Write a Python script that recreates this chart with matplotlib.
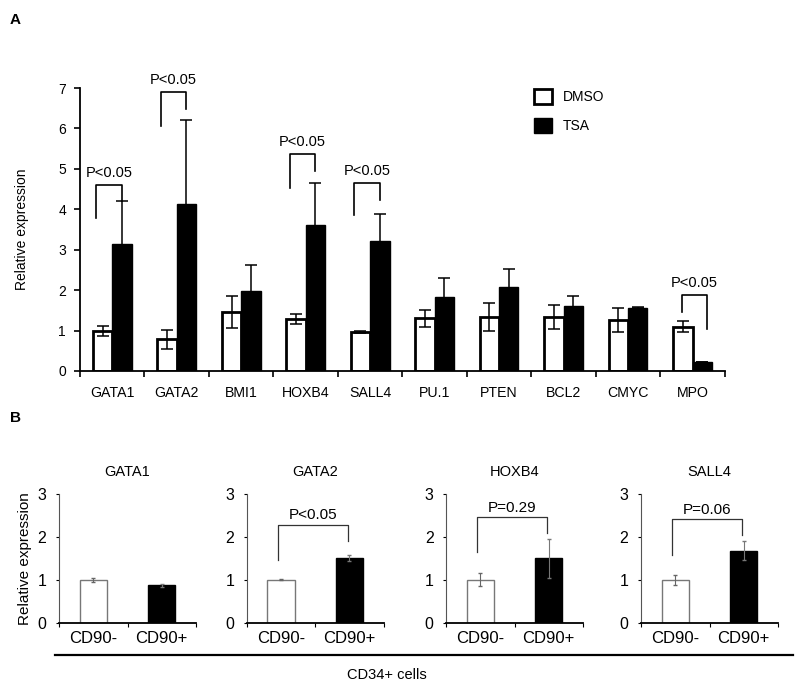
import matplotlib
matplotlib.use("Agg")
import matplotlib.pyplot as plt
import numpy as np

plt.rcParams['font.family'] = ['Liberation Sans', 'DejaVu Sans']

# panel A data
genes = ["GATA1", "GATA2", "BMI1", "HOXB4", "SALL4", "PU.1", "PTEN", "BCL2", "CMYC", "MPO"]
dmso = [0.99, 0.78, 1.46, 1.28, 0.96, 1.30, 1.34, 1.34, 1.26, 1.10]
dmso_err = [0.125, 0.23, 0.39, 0.12, 0.03, 0.20, 0.34, 0.30, 0.29, 0.14]
tsa = [3.13, 4.12, 1.98, 3.62, 3.21, 1.82, 2.08, 1.61, 1.57, 0.23]
tsa_err = [1.07, 2.10, 0.63, 1.03, 0.68, 0.47, 0.45, 0.24, 0.02, 0.0]

# brackets in panel A: gene index, left drop, top, right drop, text
sig_idx = [0, 1, 3, 4, 9]
sig_left = [3.79, 6.05, 4.53, 3.87, 1.47]
sig_top = [4.61, 6.90, 5.37, 4.65, 1.88]
sig_right = [4.20, 6.48, 4.94, 4.24, 1.03]
sig_text = ["P<0.05", "P<0.05", "P<0.05", "P<0.05", "P<0.05"]

# panel B data
b_genes = ["GATA1", "GATA2", "HOXB4", "SALL4"]
b_groups = ["CD90-", "CD90+"]
b_neg = [1.0, 1.0, 1.0, 1.0]
b_neg_err = [0.04, 0.01, 0.15, 0.12]
b_pos = [0.87, 1.50, 1.50, 1.68]
b_pos_err = [0.04, 0.07, 0.45, 0.22]
b_pval = [None, "P<0.05", "P=0.29", "P=0.06"]
b_left = [None, 1.47, 1.66, 1.58]
b_top = [None, 2.29, 2.47, 2.41]
b_right = [None, 1.91, 2.09, 2.04]

fig = plt.figure(figsize=(8, 6.88), dpi=100)

# ---- panel A ----
ax = fig.add_axes([0.1, 1 - 371 / 688, 0.806, 283 / 688])
x = np.arange(len(genes)) + 0.5
w = 0.3
ax.bar(x - 0.15, dmso, w, color="white", edgecolor="black", linewidth=2,
       yerr=dmso_err, error_kw=dict(ecolor="black", elinewidth=1.1, capsize=4, capthick=1.1), label="DMSO")
ax.bar(x + 0.15, tsa, w, color="black", edgecolor="black", linewidth=1,
       yerr=tsa_err, error_kw=dict(ecolor="black", elinewidth=1.1, capsize=4, capthick=1.1), label="TSA")
ax.set_xlim(0, len(genes))
ax.set_ylim(0, 7)
ax.set_yticks(range(8))
ax.set_xticks(range(len(genes) + 1))
ax.set_xticklabels([])
ax.set_xticks(x, minor=True)
ax.set_xticklabels(genes, minor=True, fontsize=10.2)
ax.tick_params(axis="x", which="minor", length=0, pad=11)
ax.tick_params(axis="x", which="major", length=4, width=1.2)
ax.tick_params(axis="y", length=4, width=1.2, labelsize=10, pad=6)
ax.spines["top"].set_visible(False)
ax.spines["right"].set_visible(False)
ax.spines["left"].set_linewidth(1.3)
ax.spines["bottom"].set_linewidth(1.3)
ax.set_ylabel("Relative expression", fontsize=10, labelpad=21)

for k, i in enumerate(sig_idx):
    if i == 9:
        xl, xr = x[i] - 0.17, x[i] + 0.23
    else:
        xl, xr = x[i] - 0.245, x[i] + 0.145
    ax.plot([xl, xl, xr, xr], [sig_left[k], sig_top[k], sig_top[k], sig_right[k]],
            color="black", lw=1.2, clip_on=False)
    ax.text((xl + xr) / 2, sig_top[k] + 0.12, sig_text[k], ha="center", va="bottom",
            fontsize=10.5, clip_on=False)

ax.legend(loc="upper left", bbox_to_anchor=(0.694, 1.02), frameon=False, fontsize=10,
          handlelength=1.25, handleheight=1.25, labelspacing=1.0, handletextpad=0.8,
          borderpad=0)

fig.text(0.012, 1 - 20 / 688, "A", fontsize=11, fontweight="bold", va="center")
fig.text(0.012, 1 - 418 / 688, "B", fontsize=11, fontweight="bold", va="center")

# ---- panel B ----
b_lefts = [59, 246.7, 446, 641]
for j, g in enumerate(b_genes):
    bx = fig.add_axes([b_lefts[j] / 800, 1 - 622.7 / 688, 137 / 800, 128.5 / 688])
    pos = np.array([0.5, 1.5])
    bx.bar(pos[0], b_neg[j], 0.4, color="white", edgecolor="#777777", linewidth=1,
           yerr=b_neg_err[j], error_kw=dict(ecolor="#666666", elinewidth=0.8, capsize=1.5))
    bx.bar(pos[1], b_pos[j], 0.4, color="black", edgecolor="black", linewidth=1,
           yerr=b_pos_err[j], error_kw=dict(ecolor="#777777", elinewidth=0.8, capsize=1.5))
    bx.set_xlim(0, 2)
    bx.set_ylim(0, 3)
    bx.set_yticks([0, 1, 2, 3])
    bx.set_xticks([0, 1, 2])
    bx.set_xticklabels([])
    bx.set_xticks(pos, minor=True)
    bx.set_xticklabels(b_groups, minor=True, fontsize=12)
    bx.tick_params(axis="x", which="minor", length=0, pad=6)
    bx.tick_params(axis="x", which="major", length=3, width=0.8)
    bx.tick_params(axis="y", length=2, width=0.8, labelsize=11.5, pad=7)
    bx.spines["top"].set_visible(False)
    bx.spines["right"].set_visible(False)
    bx.spines["left"].set_color("#555555")
    bx.spines["left"].set_linewidth(0.8)
    bx.spines["bottom"].set_linewidth(1.3)
    bx.set_title(g, fontsize=10.5, pad=13)
    if j == 0:
        bx.set_ylabel("Relative expression", fontsize=11, labelpad=4)
    if b_pval[j] is not None:
        xl, xr = pos[0] - 0.05, pos[1] - 0.02
        bx.plot([xl, xl, xr, xr], [b_left[j], b_top[j], b_top[j], b_right[j]],
                color="#333333", lw=0.9, clip_on=False)
        bx.text((xl + xr) / 2, b_top[j] + 0.05, b_pval[j], ha="center", va="bottom",
                fontsize=11, clip_on=False)

fig.add_artist(plt.Line2D([55 / 800, 793 / 800], [1 - 655 / 688, 1 - 655 / 688],
                          color="black", lw=1.6))
fig.text(387 / 800, 1 - 675 / 688, "CD34+ cells", ha="center", va="center", fontsize=10.5)

fig.savefig("out.png", dpi=100)
